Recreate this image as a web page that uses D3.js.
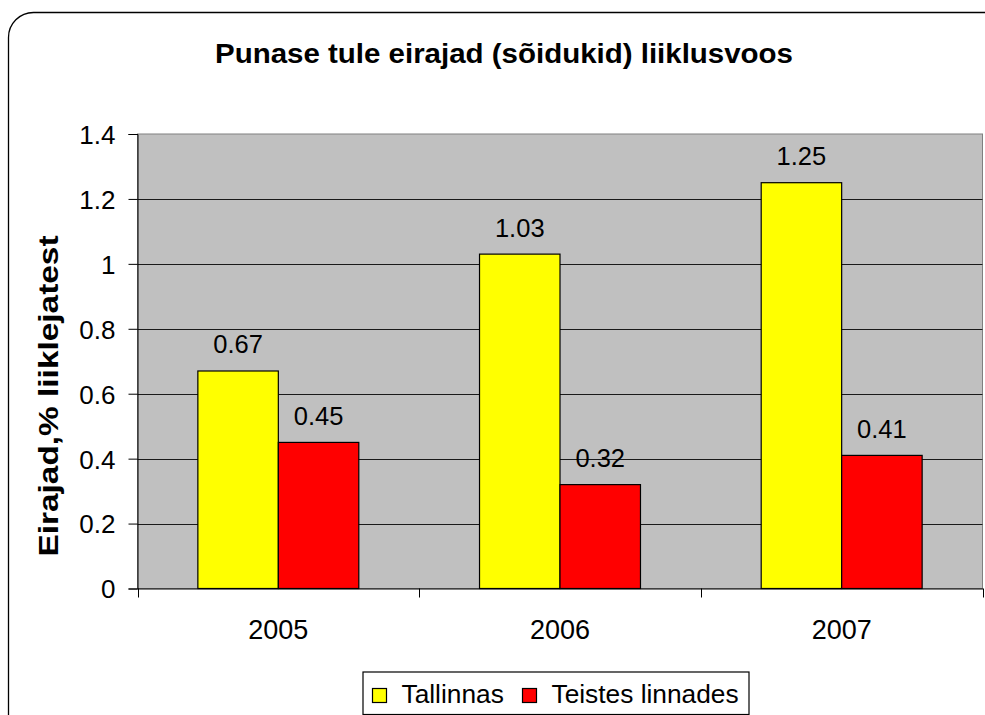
<!DOCTYPE html>
<html><head><meta charset="utf-8">
<script src="https://cdn.jsdelivr.net/npm/d3@7"></script>
<style>body{margin:0;background:#fff}svg{display:block}</style>
</head><body>
<svg id="c" width="985" height="715"></svg>
<script>
const categories = ["2005", "2006", "2007"];
const seriesNames = ["Tallinnas", "Teistes linnades"];
const tallinnas = [0.67, 1.03, 1.25];
const teistes = [0.45, 0.32, 0.41];
const yTicks = [0, 0.2, 0.4, 0.6, 0.8, 1, 1.2, 1.4];
const colors = ["#FFFF00", "#FF0000"];
const title = "Punase tule eirajad (sõidukid) liiklusvoos";
const yLabel = "Eirajad,% liiklejatest";

const font = "'Liberation Sans', Arial, sans-serif";
const svg = d3.select("#c");

// outer rounded border
svg.append("rect").attr("x", 8.5).attr("y", 12.5).attr("width", 1010).attr("height", 740)
  .attr("rx", 25).attr("fill", "#fff").attr("stroke", "#000").attr("stroke-width", 1.3);

const L = 137.5, R = 982.5, T = 134, B = 588.5;
const x = d3.scaleBand().domain(categories).range([L, R]);
const y = d3.scaleLinear().domain([0, 1.4]).range([B, T]);
const bw = x.bandwidth() / 3.5;

svg.append("rect").attr("x", L).attr("y", T).attr("width", R - L).attr("height", B - T)
  .attr("fill", "#C0C0C0").attr("stroke", "#808080").attr("stroke-width", 1);

// gridlines
svg.append("g").selectAll("line").data(yTicks.filter(d => d > 0 && d < 1.4)).join("line")
  .attr("x1", L).attr("x2", R).attr("y1", d => Math.round(y(d)) + 0.5).attr("y2", d => Math.round(y(d)) + 0.5)
  .attr("stroke", "#1a1a1a").attr("stroke-width", 1);

// y axis
const ya = svg.append("g").attr("transform", `translate(${L},0)`)
  .call(d3.axisLeft(y).tickValues(yTicks).tickFormat(d => String(d)).tickSize(9).tickPadding(13));
ya.select(".domain").attr("stroke", "#000");
ya.selectAll(".tick line").attr("stroke", "#000");
ya.selectAll("text").attr("font-family", font).attr("font-size", 26).attr("fill", "#000").attr("dy", "0.36em");

// x axis
const xa = svg.append("g").attr("transform", `translate(0,${B})`)
  .call(d3.axisBottom(x).tickSize(0).tickPadding(0));
xa.select(".domain").attr("stroke", "#000");
xa.selectAll("text").attr("font-family", font).attr("font-size", 27).attr("fill", "#000")
  .attr("y", 50.5).attr("dy", null);
// category boundary ticks
const bounds = [L, ...categories.map(c => x(c) + x.bandwidth())];
svg.append("g").selectAll("line").data(bounds).join("line")
  .attr("x1", d => Math.round(d) + 0.5).attr("x2", d => Math.round(d) + 0.5)
  .attr("y1", B).attr("y2", B + 9).attr("stroke", "#000");

// bars
const series = [tallinnas, teistes];
series.forEach((vals, si) => {
  const g = svg.append("g");
  g.selectAll("rect").data(categories).join("rect")
    .attr("x", (c) => x(c) + x.bandwidth() / 2 - bw + si * bw)
    .attr("y", (c, i) => y(vals[i]))
    .attr("width", bw).attr("height", (c, i) => B - y(vals[i]))
    .attr("fill", colors[si]).attr("stroke", "#000").attr("stroke-width", 1.2);
  g.selectAll("text").data(categories).join("text")
    .attr("x", (c) => x(c) + x.bandwidth() / 2 - bw + si * bw + bw / 2)
    .attr("y", (c, i) => y(vals[i]) - 17.5)
    .attr("text-anchor", "middle").attr("font-family", font).attr("font-size", 25.5)
    .text((c, i) => vals[i].toFixed(2));
});

// title
svg.append("text").attr("x", 504).attr("y", 62.5).attr("text-anchor", "middle")
  .attr("font-family", font).attr("font-size", 28.5).attr("font-weight", "bold")
  .attr("textLength", 578).attr("lengthAdjust", "spacingAndGlyphs").text(title);

// y label
svg.append("text").attr("transform", `translate(58,${396}) rotate(-90)`).attr("text-anchor", "middle")
  .attr("font-family", font).attr("font-size", 27).attr("font-weight", "bold")
  .attr("textLength", 321).attr("lengthAdjust", "spacingAndGlyphs").text(yLabel);

// legend
const lg = svg.append("g");
lg.append("rect").attr("x", 363).attr("y", 672).attr("width", 386).attr("height", 42.5)
  .attr("fill", "#fff").attr("stroke", "#000").attr("stroke-width", 1.2);
const items = [{ n: seriesNames[0], c: colors[0], x: 372 }, { n: seriesNames[1], c: colors[1], x: 522 }];
items.forEach(it => {
  lg.append("rect").attr("x", it.x + 0.5).attr("y", 688.5).attr("width", 14).attr("height", 14)
    .attr("fill", it.c).attr("stroke", "#000").attr("stroke-width", 1.2);
  lg.append("text").attr("x", it.x + 29.5).attr("y", 703).attr("font-family", font).attr("font-size", 26.3)
    .text(it.n);
});
</script>
</body></html>
